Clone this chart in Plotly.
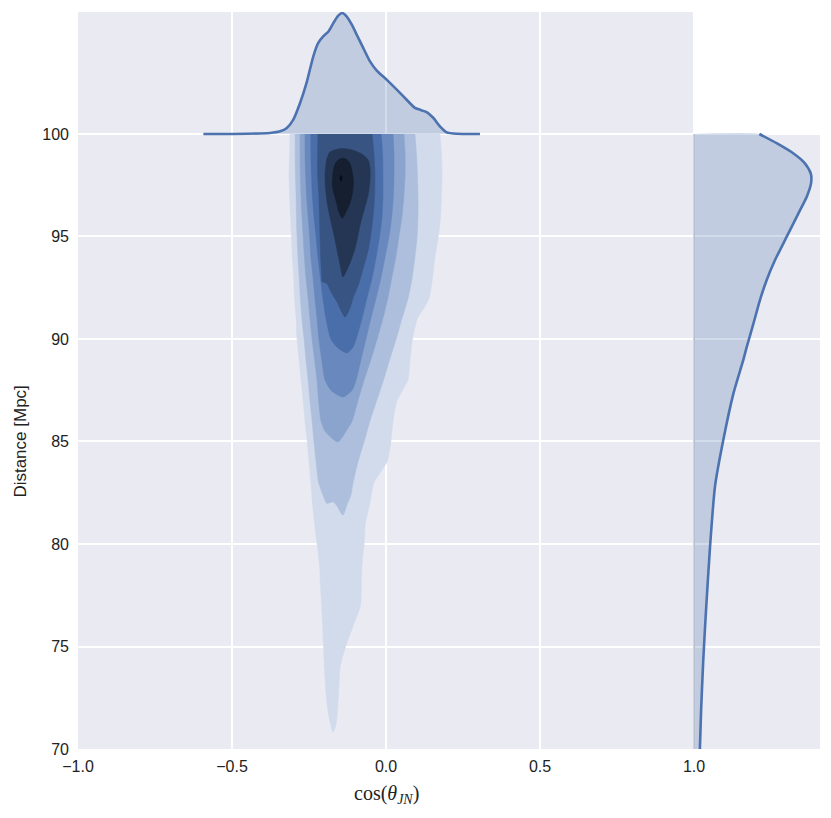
import colorsys
import plotly.graph_objects as go

# ---------------- data ----------------
# top marginal KDE of cos(theta_JN): x positions and curve height (in Mpc units above 100)
top_x = [-0.593, -0.45, -0.377, -0.344, -0.322, -0.301, -0.279, -0.258, -0.236, -0.220, -0.204, -0.187,
         -0.171, -0.155, -0.142, -0.128, -0.111, -0.095, -0.074, -0.052, -0.030, 0.002, 0.035, 0.067,
         0.094, 0.132, 0.154, 0.175, 0.197, 0.230, 0.305]
top_h = [0.0, 0.01, 0.05, 0.13, 0.29, 0.70, 1.51, 2.49, 3.79, 4.44, 4.76, 5.00,
         5.41, 5.77, 5.90, 5.74, 5.33, 4.84, 4.20, 3.54, 3.09, 2.65, 2.16, 1.67,
         1.27, 1.07, 0.78, 0.37, 0.08, 0.01, 0.0]

# right marginal KDE of distance: distance and density (offset from x = 1)
right_y = [70.0, 71.9, 74.34, 76.78, 79.87, 82.8, 85.07, 87.35, 88.98, 89.6, 90.76, 91.9, 92.88,
           93.85, 94.99, 96.13, 96.94, 97.6, 98.08, 98.57, 99.06, 99.55, 100.0]
right_d = [0.019, 0.023, 0.030, 0.039, 0.052, 0.068, 0.095, 0.128, 0.160, 0.171, 0.193, 0.214, 0.236,
           0.263, 0.301, 0.339, 0.366, 0.380, 0.379, 0.360, 0.322, 0.268, 0.212]

# joint KDE filled contour levels (outer -> inner), boundary vertices
L1_x = [-0.312, -0.313, -0.315, -0.313, -0.310, -0.307, -0.304, -0.300, -0.297, -0.292, -0.289, -0.282,
        -0.276, -0.269, -0.263, -0.256, -0.250, -0.244, -0.239, -0.232, -0.224, -0.216, -0.213, -0.209,
        -0.206, -0.203, -0.200, -0.196, -0.190, -0.180, -0.172,
        -0.162, -0.157, -0.153, -0.149, -0.131, -0.107, -0.083, -0.080, -0.078, -0.071, -0.067, -0.052,
        -0.039, 0.003, 0.016, 0.023, 0.036, 0.071, 0.078, 0.086, 0.102, 0.123, 0.140, 0.151, 0.159,
        0.170, 0.177, 0.180, 0.182, 0.180, 0.175]
L1_y = [100, 99, 98, 97, 96, 95, 94, 93, 92, 91, 90, 89, 88, 87, 86, 85, 84, 83, 82, 81, 80, 79, 78, 77,
        76, 75, 74, 73, 72, 71.2, 70.83,
        71.2, 72, 73, 74, 75, 76, 77, 78, 79, 80, 81, 82, 83, 84, 85, 86, 87, 88, 89, 90, 91, 91.5, 92,
        93, 94, 95, 96, 97, 98, 99, 100]

L2_x = [-0.295, -0.295, -0.294, -0.292, -0.291, -0.289, -0.286, -0.282, -0.278, -0.273, -0.266, -0.260,
        -0.253, -0.247, -0.240, -0.234, -0.227, -0.219, -0.205, -0.192, -0.172, -0.159, -0.140, -0.127,
        -0.114, -0.107,
        -0.091, -0.071, -0.052, -0.030, -0.008, 0.012, 0.033, 0.052, 0.072, 0.085, 0.094, 0.101, 0.104,
        0.104, 0.102, 0.099, 0.094]
L2_y = [100, 99, 98, 97, 96, 95, 94, 93, 92, 91, 90, 89, 88, 87, 86, 85, 84, 83, 82.4, 81.98, 82.06,
        81.85, 81.41, 81.9, 82.39, 82.98,
        84, 85, 86, 87, 88, 89, 90, 91, 92, 93, 94, 95, 96, 97, 98, 99, 100]

L3_x = [-0.279, -0.279, -0.278, -0.276, -0.273, -0.269, -0.265, -0.260, -0.253, -0.247, -0.240, -0.232,
        -0.224, -0.219, -0.211, -0.198, -0.156,
        -0.130, -0.110, -0.091, -0.071, -0.049, -0.029, -0.010, 0.006, 0.019, 0.032, 0.042, 0.052,
        0.058, 0.062, 0.062, 0.058]
L3_y = [100, 99, 98, 97, 96, 95, 94, 93, 92, 91, 90, 89, 88, 87, 86, 85.5, 84.98,
        85.5, 86, 87, 88, 89, 90, 91, 92, 93, 94, 95, 96, 97, 98, 99, 100]

L4_x = [-0.263, -0.263, -0.261, -0.258, -0.253, -0.248, -0.244, -0.237, -0.231, -0.224, -0.218, -0.209,
        -0.198, -0.179, -0.140,
        -0.110, -0.097, -0.081, -0.065, -0.049, -0.032, -0.016, -0.003, 0.010, 0.019, 0.024, 0.026,
        0.026, 0.023]
L4_y = [100, 99, 98, 97, 96, 95, 94, 93, 92, 91, 90, 89, 88, 87.5, 87.17,
        87.5, 88, 89, 90, 91, 92, 93, 94, 95, 96, 97, 98, 99, 100]

L5_x = [-0.244, -0.244, -0.242, -0.239, -0.234, -0.227, -0.221, -0.213, -0.205, -0.195, -0.179, -0.159,
        -0.127,
        -0.107, -0.097, -0.078, -0.062, -0.045, -0.032, -0.021, -0.013, -0.010, -0.010, -0.011, -0.016]
L5_y = [100, 99, 98, 97, 96, 95, 94, 93, 92, 91, 90, 89.6, 89.32,
        89.6, 90, 91, 92, 93, 94, 95, 96, 97, 98, 99, 100]

L6_x = [-0.221, -0.222, -0.222, -0.218, -0.216, -0.214, -0.212, -0.209, -0.208, -0.192, -0.179, -0.159,
        -0.133,
        -0.117, -0.107, -0.088, -0.073, -0.058, -0.050, -0.042, -0.037, -0.036, -0.039, -0.045]
L6_y = [100, 99, 98, 97, 96, 95, 94, 93, 92.8, 92.7, 92.3, 91.8, 91.07,
        91.5, 92, 92.7, 93.5, 94.3, 95, 96, 97, 98, 99, 100]

L7_x = [-0.182, -0.162, -0.140, -0.110, -0.078, -0.058, -0.052, -0.052, -0.058, -0.071, -0.084, -0.094,
        -0.104, -0.117, -0.130, -0.140, -0.149, -0.159, -0.169, -0.180, -0.190, -0.196, -0.198, -0.193,
        -0.182]
L7_y = [99.12, 99.24, 99.29, 99.22, 99.02, 98.73, 98.34, 97.76, 97.02, 96.29, 95.56, 94.83,
        94.24, 93.71, 93.27, 93.02, 93.61, 94.34, 95.07, 95.80, 96.54, 97.27, 98.0, 98.73, 99.12]

L8_x = [-0.144, -0.130, -0.117, -0.106, -0.108, -0.117, -0.130, -0.142, -0.154, -0.160, -0.174, -0.171,
        -0.162, -0.144]
L8_y = [98.81, 98.78, 98.57, 97.76, 97.2, 96.62, 96.20, 95.89, 96.24, 96.62, 97.43, 98.24, 98.63, 98.81]

L9_x = [-0.146, -0.143, -0.146, -0.149, -0.146]
L9_y = [97.98, 97.85, 97.70, 97.85, 97.98]

x_ticks = [-1.0, -0.5, 0.0, 0.5, 1.0]
x_ticktext = ["\u22121.0", "\u22120.5", "0.0", "0.5", "1.0"]
y_ticks = [70, 75, 80, 85, 90, 95, 100]
y_ticktext = ["70", "75", "80", "85", "90", "95", "100"]
x_title = "cos(<i>θ</i><sub><i>JN</i></sub>)"
y_title = "Distance [Mpc]"

# ---------------- styling ----------------
BLUE = "#4C72B0"
FILL = "rgba(76,114,176,0.25)"
BG = "#EAEAF2"
HUE, SAT = 0.6033, 0.397
lightness = [0.87, 0.77, 0.675, 0.575, 0.475, 0.365, 0.235, 0.135, 0.04]


def hls_color(l):
    r, g, b = colorsys.hls_to_rgb(HUE, l, SAT)
    return "rgb(%d,%d,%d)" % (round(r * 255), round(g * 255), round(b * 255))


levels = [(L1_x, L1_y), (L2_x, L2_y), (L3_x, L3_y), (L4_x, L4_y), (L5_x, L5_y),
          (L6_x, L6_y), (L7_x, L7_y), (L8_x, L8_y), (L9_x, L9_y)]

fig = go.Figure()

for (lx, ly), l in zip(levels, lightness):
    c = hls_color(l)
    fig.add_trace(go.Scatter(x=lx, y=ly, mode="lines", fill="toself", fillcolor=c,
                             line=dict(color=c, width=0.5, shape="spline", smoothing=0.7),
                             hoverinfo="skip", showlegend=False))

# top marginal
base = 100.0
fig.add_trace(go.Scatter(x=top_x, y=[base + h for h in top_h], mode="lines", fill="toself",
                         fillcolor=FILL, line=dict(width=0, shape="spline", smoothing=0.6),
                         hoverinfo="skip", showlegend=False))
fig.add_trace(go.Scatter(x=top_x, y=[base + h for h in top_h], mode="lines",
                         line=dict(color=BLUE, width=2.6, shape="spline", smoothing=0.6),
                         hoverinfo="skip", showlegend=False))

# right marginal
rx = [1.0 + d for d in right_d]
fig.add_trace(go.Scatter(x=[1.0] + rx + [1.0], y=[right_y[0]] + right_y + [right_y[-1]], mode="lines",
                         fill="toself", fillcolor=FILL, line=dict(width=0, shape="spline", smoothing=0.6),
                         hoverinfo="skip", showlegend=False))
fig.add_trace(go.Scatter(x=[1.0, 1.0], y=[70, 100], mode="lines",
                         line=dict(color="#a3a9b8", width=1), hoverinfo="skip", showlegend=False))
fig.add_trace(go.Scatter(x=rx, y=right_y, mode="lines",
                         line=dict(color=BLUE, width=2.6, shape="spline", smoothing=0.6),
                         hoverinfo="skip", showlegend=False))

# white corner above the right marginal
fig.add_shape(type="rect", xref="x", yref="y", x0=1.0, x1=1.5, y0=100, y1=107,
              fillcolor="white", line=dict(width=0), layer="between")

# axis titles, centred on the joint panel
fig.add_annotation(text=x_title, xref="x", x=0.0, yref="paper", y=-0.0624,
                   xanchor="center", yanchor="middle", showarrow=False,
                   font=dict(family="Liberation Serif, DejaVu Serif, serif", size=20, color="#222222"))
fig.add_annotation(text=y_title, xref="paper", x=-0.078, yref="y", y=85,
                   xanchor="center", yanchor="middle", showarrow=False, textangle=-90,
                   font=dict(family="Liberation Sans, Arial, sans-serif", size=17, color="#222222"))

fig.update_layout(
    width=831, height=818,
    margin=dict(l=78, r=11, t=12, b=69),
    paper_bgcolor="white", plot_bgcolor=BG,
    font=dict(family="Liberation Sans, Arial, sans-serif", size=16, color="#222222"),
    showlegend=False,
)
fig.update_xaxes(range=[-1.0, 1.409], tickvals=x_ticks, ticktext=x_ticktext, automargin=False,
                 showgrid=True, gridcolor="white", gridwidth=1.8, zeroline=False, showline=False,
                 ticks="", ticklabelstandoff=6, tickfont=dict(size=16))
fig.update_yaxes(range=[70, 105.95], tickvals=y_ticks, ticktext=y_ticktext, automargin=False,
                 showgrid=True, gridcolor="white", gridwidth=1.8, zeroline=False, showline=False,
                 ticks="", ticklabelstandoff=8, tickfont=dict(size=16))

fig.write_html("out.html", config={"displayModeBar": False},
               post_script="document.body.style.margin='0';document.body.style.overflow='hidden';")
